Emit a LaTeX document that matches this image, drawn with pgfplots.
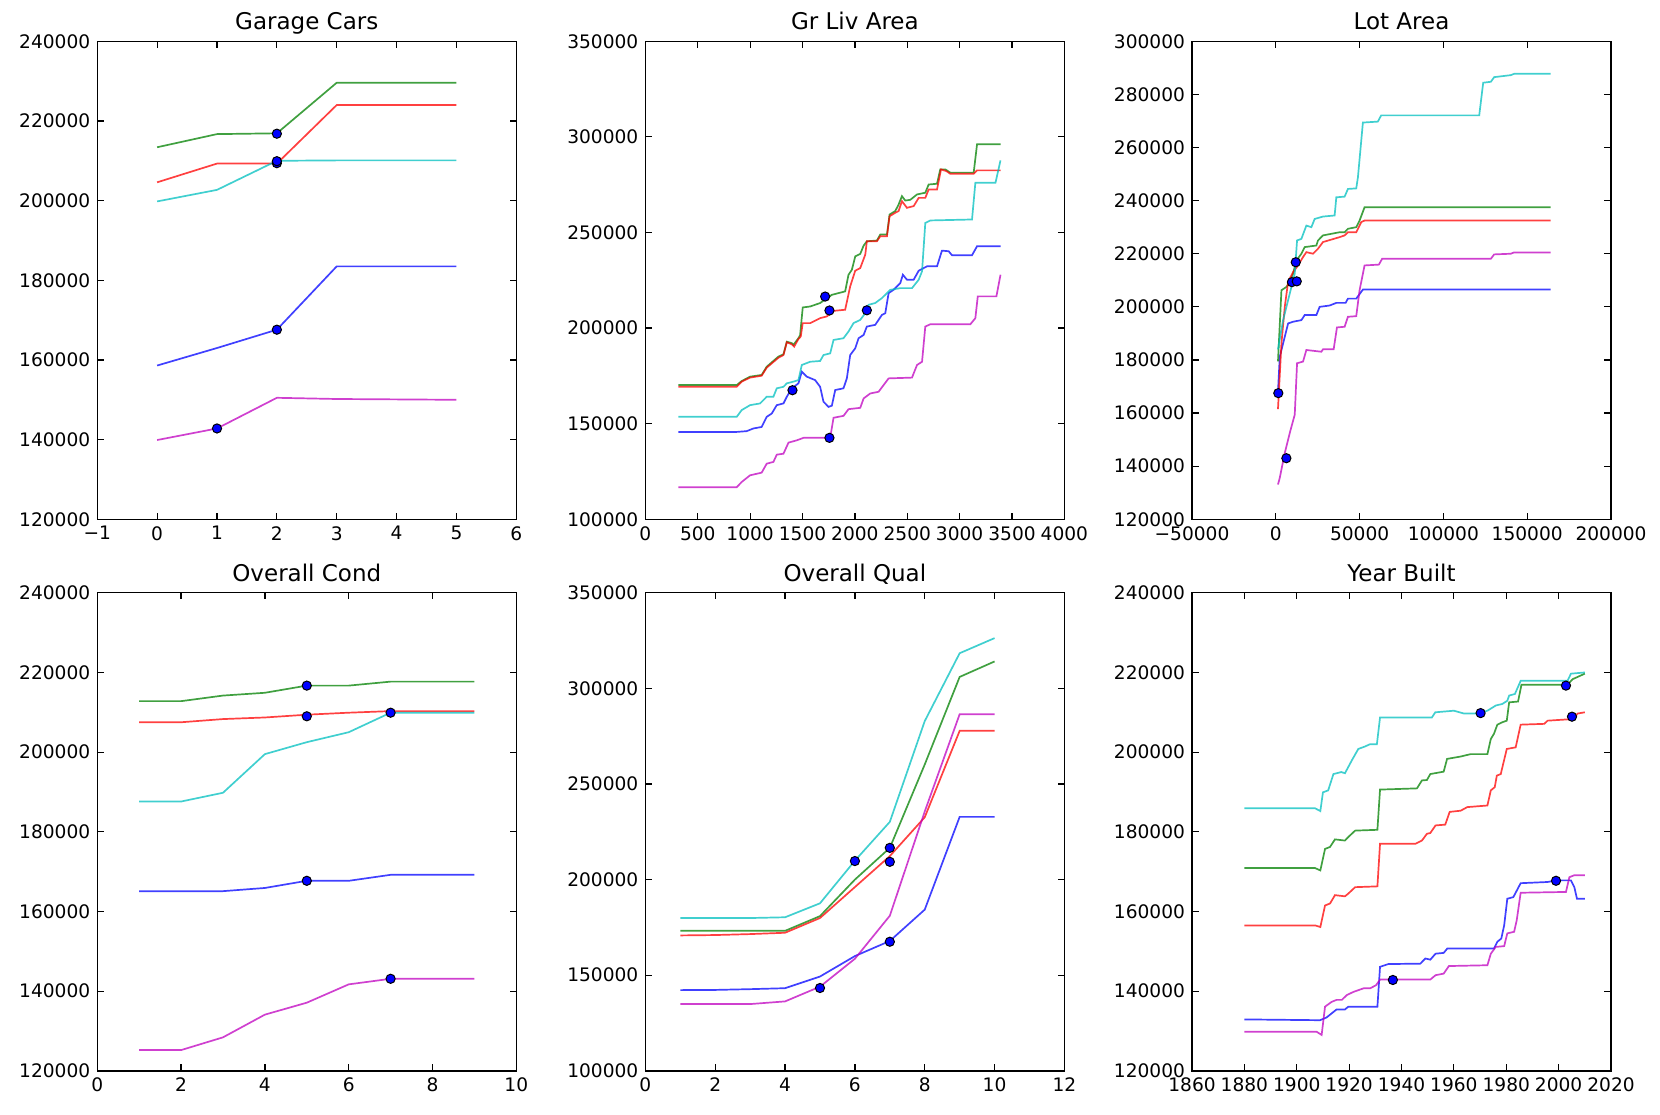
\documentclass[border=0pt]{standalone}
\usepackage{pgfplots}
\pgfplotsset{compat=1.18}
\usepackage{fontspec}
\setmainfont{DejaVu Sans}

\definecolor{mplb}{rgb}{0,0,1}
\definecolor{mplg}{rgb}{0,0.5,0}
\definecolor{mplr}{rgb}{1,0,0}
\definecolor{mplc}{rgb}{0,0.75,0.75}
\definecolor{mplm}{rgb}{0.75,0,0.75}

\pgfplotsset{
  mplaxis/.style={
    scale only axis, width=209.5pt, height=239pt, anchor=south west,
    tick align=inside, major tick length=3.3pt,
    axis line style={line width=0.7pt},
    every tick/.style={black, line width=0.6pt},
    tick label style={font=\fontsize{9.3}{11}\selectfont},
    title style={font=\fontsize{11.5}{13}\selectfont, at={(0.5,1)}, anchor=base, yshift=-0.3pt},
    scaled ticks=false,
    /pgf/number format/assume math mode=true,
    /pgf/number format/fixed,
    /pgf/number format/1000 sep={},
  },
  ice/.style={line width=0.85pt, draw opacity=0.75, mark=none},
  dots/.style={only marks, mark=*, mark size=2.3pt,
    mark options={fill=mplb, draw=black, line width=0.5pt}},
}

\begin{document}
\begin{tikzpicture}
\path[use as bounding box] (0,0) rectangle (830pt,557pt);

% ---------------- Garage Cars
\begin{axis}[mplaxis, at={(48.65pt,297.35pt)}, title={Garage Cars},
  xmin=-1, xmax=6, xtick={-1,0,...,6},
  xticklabels={−1,0,1,2,3,4,5,6},
  ymin=120000, ymax=240000, ytick={120000,140000,...,240000}]
\addplot[ice, mplb] coordinates {(0,158600) (1,163000) (2,167600) (3,183500) (4,183500) (5,183500)};
\addplot[ice, mplg] coordinates {(0,213400) (1,216700) (2,216900) (3,229600) (4,229600) (5,229600)};
\addplot[ice, mplr] coordinates {(0,204600) (1,209300) (2,209300) (3,224000) (4,224000) (5,224000)};
\addplot[ice, mplc] coordinates {(0,199800) (1,202700) (2,210000) (3,210100) (4,210100) (5,210100)};
\addplot[ice, mplm] coordinates {(0,139900) (1,142800) (2,150500) (3,150200) (4,150100) (5,150000)};
\addplot[dots] coordinates {(2,216800) (2,209400) (2,209900) (2,167600) (1,142800)};
\end{axis}

% ---------------- Gr Liv Area
\begin{axis}[mplaxis, at={(322.7pt,297.35pt)}, title={Gr Liv Area},
  xmin=0, xmax=4000, xtick={0,500,...,4000},
  ymin=100000, ymax=350000, ytick={100000,150000,...,350000}]
\addplot[ice, mplb] coordinates {(314,145700) (872,145700) (967,146100) (1031,147500) (1110,148300) (1158,153600) (1206,155300) (1254,159700) (1318,160600) (1350,164100) (1398,168500) (1461,171100) (1493,177200) (1541,174600) (1620,172800) (1668,169300) (1700,161500) (1748,158800) (1780,159400) (1812,167600) (1891,168500) (1923,173700) (1955,185900) (2003,189400) (2035,194700) (2083,196400) (2114,200800) (2194,201700) (2258,206900) (2290,207800) (2322,218300) (2369,220000) (2433,223500) (2458,227900) (2497,225300) (2561,225300) (2609,230000) (2688,232300) (2784,232300) (2831,240500) (2895,240200) (2927,238100) (3118,238100) (3166,242800) (3390,242800)};
\addplot[ice, mplg] coordinates {(314,170200) (872,170200) (919,172300) (999,174600) (1110,175500) (1158,179800) (1270,185100) (1318,186300) (1350,192900) (1398,192100) (1413,191200) (1461,194700) (1477,196400) (1502,210800) (1573,211300) (1668,213100) (1780,217400) (1907,219200) (1939,227900) (1971,230500) (2003,237500) (2051,238800) (2083,243100) (2114,245400) (2210,245800) (2242,248900) (2306,248900) (2331,259400) (2385,261200) (2417,264600) (2449,269000) (2481,266700) (2529,267100) (2593,269900) (2672,270800) (2704,275100) (2784,275500) (2815,283000) (2863,283000) (2911,281300) (3134,281300) (3166,296100) (3390,296100)};
\addplot[ice, mplr] coordinates {(314,169300) (872,169300) (919,172000) (999,174100) (1110,175100) (1158,179300) (1270,184500) (1318,185900) (1350,192600) (1398,191500) (1420,190300) (1461,194300) (1483,195600) (1502,202600) (1573,202600) (1668,205200) (1732,206100) (1796,209000) (1907,209600) (1955,221800) (2003,230000) (2051,231400) (2099,238400) (2114,245400) (2210,245400) (2242,248000) (2306,248000) (2331,258500) (2385,260300) (2417,261200) (2449,266400) (2497,262900) (2561,263800) (2609,268100) (2672,268100) (2704,272500) (2784,272500) (2822,283000) (2873,282100) (2911,280700) (3134,280700) (3166,282500) (3390,282500)};
\addplot[ice, mplc] coordinates {(314,153600) (872,153600) (919,157100) (999,159700) (1095,160600) (1158,164100) (1222,164100) (1254,168500) (1318,169300) (1350,171100) (1413,172000) (1461,172800) (1493,180700) (1573,182400) (1668,182800) (1700,185900) (1764,186800) (1796,193800) (1891,194700) (1939,198200) (1987,202600) (2051,204300) (2099,207800) (2130,212200) (2194,213100) (2258,215700) (2338,220000) (2433,220900) (2545,220900) (2609,225300) (2641,229700) (2672,255000) (2720,256300) (3118,256800) (3150,276000) (3342,276000) (3390,287700)};
\addplot[ice, mplm] coordinates {(314,116800) (872,116800) (919,119500) (999,123000) (1110,124400) (1158,129100) (1222,130000) (1254,133800) (1318,134300) (1366,140100) (1445,141300) (1509,142600) (1764,142600) (1796,153100) (1891,154100) (1939,157600) (2051,158300) (2083,163200) (2146,165800) (2226,166700) (2274,170200) (2322,173700) (2545,174100) (2593,180700) (2641,182400) (2672,200800) (2720,202000) (3102,202000) (3150,205200) (3173,216600) (3351,216600) (3390,227900)};
\addplot[dots] coordinates {(1716,216500) (1757,209200) (2114,209300) (1404,167500) (1757,142600)};
\end{axis}

% ---------------- Lot Area
\begin{axis}[mplaxis, at={(596pt,297.35pt)}, title={Lot Area},
  xmin=-50000, xmax=200000, xtick={-50000,0,50000,100000,150000,200000},
  xticklabels={−50000,0,50000,100000,150000,200000},
  ymin=120000, ymax=300000, ytick={120000,140000,...,300000}]
\addplot[ice, mplb] coordinates {(1300,168100) (2370,181250) (4350,186250) (7330,193750) (10300,194400) (15260,195000) (17240,196900) (24190,196900) (26170,200000) (32120,200500) (36100,201500) (41650,201500) (43040,203100) (47990,203100) (51960,206500) (164000,206500)};
\addplot[ice, mplg] coordinates {(1300,179500) (3360,206250) (6340,207500) (8320,209400) (10300,212500) (12290,217500) (15260,220000) (17240,222500) (24190,223100) (25180,225000) (28150,226900) (38070,228100) (41050,228100) (43040,229400) (47990,230000) (49980,232500) (52950,237500) (164000,237500)};
\addplot[ice, mplr] coordinates {(1300,161500) (1900,168750) (3360,186250) (5350,200000) (7330,209400) (10300,213100) (13280,215600) (16250,218750) (18230,220600) (22200,220000) (25180,221900) (28150,224400) (38070,226250) (41050,226900) (43040,228100) (47990,228100) (50970,231900) (52950,232500) (164000,232500)};
\addplot[ice, mplc] coordinates {(1300,184000) (4350,195000) (8320,205000) (11300,212500) (12680,225000) (15260,225600) (18230,230600) (21210,230000) (23190,233100) (28150,234000) (35100,234400) (36100,241250) (41050,241500) (43040,244400) (47990,244600) (48990,248750) (51960,269400) (60880,269750) (62870,272100) (121370,272100) (123740,284400) (128300,284750) (130290,286500) (140200,287250) (142190,287750) (164000,287750)};
\addplot[ice, mplm] coordinates {(1300,133100) (2370,135600) (5350,145000) (8320,152500) (11300,159400) (12680,178750) (16250,179400) (18230,183750) (27160,183100) (28150,184000) (34510,184000) (36490,192250) (41050,192500) (43040,196250) (47990,196500) (49980,206250) (52950,215600) (61480,215900) (63460,218100) (128300,218100) (130290,219750) (140200,220000) (142190,220500) (164000,220500)};
\addplot[dots] coordinates {(11900,216800) (9600,209300) (12500,209600) (1500,167500) (6300,143000)};
\end{axis}

% ---------------- Overall Cond
\begin{axis}[mplaxis, at={(48.65pt,21.6pt)}, title={Overall Cond},
  xmin=0, xmax=10, xtick={0,2,...,10},
  ymin=120000, ymax=240000, ytick={120000,140000,...,240000}]
\addplot[ice, mplb] coordinates {(1,165100) (2,165100) (3,165100) (4,165900) (5,167700) (6,167700) (7,169200) (8,169200) (9,169200)};
\addplot[ice, mplg] coordinates {(1,212800) (2,212800) (3,214200) (4,214900) (5,216700) (6,216700) (7,217700) (8,217700) (9,217700)};
\addplot[ice, mplr] coordinates {(1,207500) (2,207500) (3,208300) (4,208700) (5,209400) (6,209900) (7,210300) (8,210300) (9,210300)};
\addplot[ice, mplc] coordinates {(1,187600) (2,187600) (3,189800) (4,199500) (5,202500) (6,205000) (7,209900) (8,209900) (9,209900)};
\addplot[ice, mplm] coordinates {(1,125200) (2,125200) (3,128400) (4,134100) (5,137100) (6,141700) (7,143100) (8,143100) (9,143100)};
\addplot[dots] coordinates {(5,216700) (5,209000) (7,209900) (5,167700) (7,143100)};
\end{axis}

% ---------------- Overall Qual
\begin{axis}[mplaxis, at={(322.7pt,21.6pt)}, title={Overall Qual},
  xmin=0, xmax=12, xtick={0,2,...,12},
  ymin=100000, ymax=350000, ytick={100000,150000,...,350000}]
\addplot[ice, mplb] coordinates {(1,142200) (2,142300) (3,142700) (4,143200) (5,149300) (6,160000) (7,167900) (8,184300) (9,232800) (10,232800)};
\addplot[ice, mplg] coordinates {(1,173200) (2,173200) (3,173200) (4,173200) (5,180900) (6,200000) (7,216600) (8,260200) (9,306000) (10,314100)};
\addplot[ice, mplr] coordinates {(1,170800) (2,171000) (3,171500) (4,172200) (5,179900) (6,196100) (7,212300) (8,232600) (9,277800) (10,277800)};
\addplot[ice, mplc] coordinates {(1,179900) (2,179900) (3,179900) (4,180300) (5,187600) (6,209900) (7,230200) (8,282900) (9,318400) (10,326300)};
\addplot[ice, mplm] coordinates {(1,134900) (2,134900) (3,134900) (4,136300) (5,144000) (6,158600) (7,181100) (8,235600) (9,286500) (10,286500)};
\addplot[dots] coordinates {(6,209700) (7,216600) (7,209300) (7,167500) (5,143300)};
\end{axis}

% ---------------- Year Built
\begin{axis}[mplaxis, at={(596pt,21.6pt)}, title={Year Built},
  xmin=1860, xmax=2020, xtick={1860,1880,...,2020},
  ymin=120000, ymax=240000, ytick={120000,140000,...,240000}]
\addplot[ice, mplb] coordinates {(1880,132900) (1908.9,132700) (1911.4,133400) (1913.3,134400) (1915.2,135400) (1918.4,135400) (1919.7,136100) (1930.8,136100) (1931.8,146100) (1935,146800) (1947.2,146900) (1949.1,148200) (1951,147900) (1953,149400) (1956.1,149600) (1957.5,150700) (1975.3,150700) (1976.6,152400) (1978.1,153200) (1979.2,156500) (1980.4,163200) (1982.7,163600) (1985.5,167100) (1995.8,167400) (1999,167800) (2004.7,167800) (2006,166100) (2007,163200) (2010,163200)};
\addplot[ice, mplg] coordinates {(1880,170900) (1907,170900) (1909,170300) (1910.8,175700) (1912.7,176200) (1914.6,178100) (1918.4,177800) (1919.7,178700) (1922.3,180300) (1930.8,180500) (1931.8,190600) (1945.9,190900) (1947.8,192900) (1949.7,193000) (1951,194500) (1956.1,195100) (1957.4,198300) (1962.6,198900) (1966.4,199500) (1972.8,199500) (1974.1,203300) (1975.3,204600) (1976.6,206900) (1978.5,207500) (1980.2,207900) (1981.1,212500) (1984.5,212700) (1985.8,216900) (2003.4,216900) (2005.3,218300) (2010,219700)};
\addplot[ice, mplr] coordinates {(1880,156500) (1907,156500) (1909,156100) (1910.8,161500) (1912.7,162000) (1914.6,164100) (1918.4,163800) (1919.7,164500) (1922.3,166100) (1930.8,166300) (1931.8,177000) (1945.3,177000) (1947.8,177800) (1949.7,179500) (1951,179700) (1953,181600) (1956.7,181800) (1958.4,185000) (1962.6,185300) (1965.1,186200) (1972.8,186600) (1974.1,190400) (1975.6,191200) (1976.4,194100) (1977.9,194500) (1980.2,200800) (1983.6,201200) (1985.5,206900) (1994.5,207100) (1995.8,207900) (2005.3,208300) (2007.3,209700) (2010,210000)};
\addplot[ice, mplc] coordinates {(1880,185900) (1907,185900) (1909,185200) (1910,189900) (1912,190400) (1914,194500) (1917,195000) (1918.4,194700) (1921,197900) (1923.5,200800) (1926,201400) (1928,202000) (1930.6,202000) (1931.8,208700) (1951.6,208700) (1952.9,210000) (1960,210400) (1963.8,209700) (1969.6,209700) (1972.8,210400) (1976,211700) (1978.5,212100) (1980.4,212900) (1981.1,214200) (1983.3,214600) (1985.5,217900) (2003.4,217900) (2004.7,219700) (2010,220000)};
\addplot[ice, mplm] coordinates {(1880,129800) (1907.6,129800) (1909.5,129000) (1910.8,136100) (1913.3,137300) (1915.2,137800) (1917.2,137800) (1919.1,139000) (1921.6,139800) (1925.5,140700) (1928,140700) (1930.3,141500) (1931.8,142900) (1951,142900) (1953,144000) (1956.1,144400) (1958.1,146300) (1972.8,146500) (1974.1,149400) (1976,151100) (1979.2,151300) (1980.4,154500) (1983,154900) (1984,157800) (1985.5,164700) (2002.8,164900) (2004.1,168600) (2006,169100) (2010,169100)};
\addplot[dots] coordinates {(1970.2,209800) (2002.8,216700) (2005.1,208900) (1999,167700) (1936.7,142800)};
\end{axis}
\end{tikzpicture}
\end{document}
